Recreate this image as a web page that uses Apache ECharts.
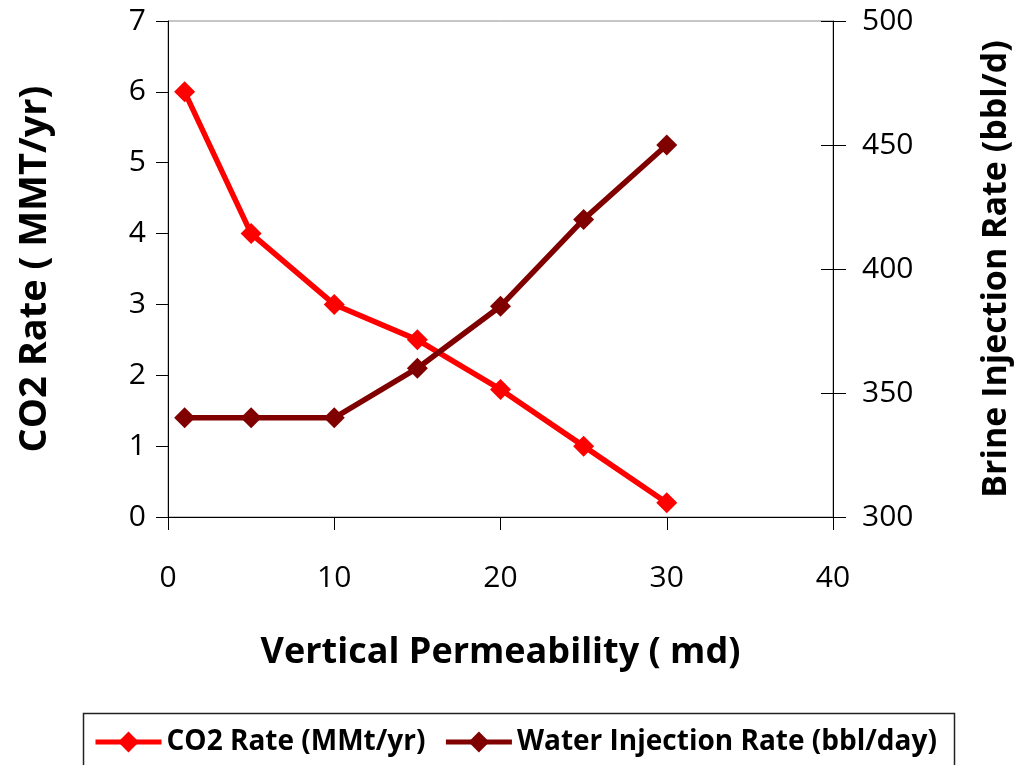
<!DOCTYPE html>
<html>
<head>
<meta charset="utf-8">
<title>CO2 Rate and Brine Injection vs Vertical Permeability</title>
<script src="https://cdn.jsdelivr.net/npm/echarts@6/dist/echarts.min.js"></script>
<style>
  html, body { margin: 0; padding: 0; background: #ffffff; }
  #chart { width: 1016px; height: 765px; }
</style>
</head>
<body>
<div id="chart"></div>
<script>
// Vertical permeability (md)
const permeability = [1, 5, 10, 15, 20, 25, 30];
// CO2 injection rate (MMt/yr)
const co2Rate = [6, 4, 3, 2.5, 1.8, 1, 0.2];
// Brine / water injection rate (bbl/day)
const waterRate = [340, 340, 340, 360, 385, 420, 450];

const seriesNames = ['CO2 Rate (MMt/yr)', 'Water Injection Rate (bbl/day)'];
const xTitle = 'Vertical Permeability ( md)';
const yLeftTitle = 'CO2 Rate ( MMT/yr)';
const yRightTitle = 'Brine Injection Rate (bbl/d)';

const pairs = (xs, ys) => xs.map((x, i) => [x, ys[i]]);

const FONT = '"Open Sans", "Noto Sans", sans-serif';

const chart = echarts.init(document.getElementById('chart'), null, { renderer: 'canvas' });

const tickLabel = { color: '#000', fontFamily: FONT, fontSize: 30 };
const titleText = (size) => ({ color: '#000', fontFamily: FONT, fontWeight: 'bold', fontSize: size });

chart.setOption({
  animation: false,
  backgroundColor: '#fff',
  grid: {
    left: 168, right: 183, top: 21, bottom: 248,
    outerBoundsMode: 'none',
    containLabel: false,
    show: true, borderColor: '#8c8c8c', borderWidth: 1, backgroundColor: 'transparent'
  },
  legend: {
    left: 88, top: 723,
    itemWidth: 66, itemHeight: 26, itemGap: 18,
    lineStyle: { width: 5 },
    textStyle: { color: '#000', fontFamily: FONT, fontWeight: 'bold', fontSize: 28 },
    data: seriesNames
  },
  graphic: [{
    type: 'rect',
    shape: { x: 83.5, y: 713.5, width: 871, height: 80 },
    style: { fill: 'none', stroke: '#222', lineWidth: 1.5 },
    silent: true
  }],
  xAxis: {
    type: 'value', min: 0, max: 40, interval: 10,
    name: xTitle, nameLocation: 'middle', nameGap: 118,
    nameTextStyle: titleText(36),
    axisLine: { show: true, lineStyle: { color: '#000', width: 1 } },
    axisTick: { show: true, inside: false, length: 13, lineStyle: { color: '#000' } },
    axisLabel: Object.assign({ margin: 46 }, tickLabel),
    splitLine: { show: false }
  },
  yAxis: [{
    type: 'value', min: 0, max: 7, interval: 1, position: 'left',
    name: yLeftTitle, nameLocation: 'middle', nameGap: 114, nameRotate: 90,
    nameTextStyle: titleText(38),
    axisLine: { show: true, lineStyle: { color: '#000', width: 1 } },
    axisTick: { show: true, inside: false, length: 12, lineStyle: { color: '#000' } },
    axisLabel: Object.assign({ margin: 22 }, tickLabel),
    splitLine: { show: false }
  }, {
    type: 'value', min: 300, max: 500, interval: 50, position: 'right',
    name: yRightTitle, nameLocation: 'middle', nameGap: 146, nameRotate: 90,
    nameTextStyle: titleText(34),
    axisLine: { show: true, lineStyle: { color: '#000', width: 1 } },
    axisTick: { show: true, inside: false, length: 13, lineStyle: { color: '#000' } },
    axisLabel: Object.assign({ margin: 29 }, tickLabel),
    splitLine: { show: false }
  }, {
    // inner half of the crossing ticks on the secondary axis
    type: 'value', min: 300, max: 500, interval: 50, position: 'right',
    axisLine: { show: false },
    axisTick: { show: true, inside: true, length: 12, lineStyle: { color: '#000' } },
    axisLabel: { show: false },
    splitLine: { show: false }
  }],
  series: [{
    name: seriesNames[0],
    type: 'line',
    yAxisIndex: 0,
    data: pairs(permeability, co2Rate),
    symbol: 'diamond', symbolSize: 21,
    lineStyle: { color: '#ff0000', width: 5.5 },
    itemStyle: { color: '#ff0000' },
    z: 2
  }, {
    name: seriesNames[1],
    type: 'line',
    yAxisIndex: 1,
    data: pairs(permeability, waterRate),
    symbol: 'diamond', symbolSize: 21,
    lineStyle: { color: '#800000', width: 5.5 },
    itemStyle: { color: '#800000' },
    z: 3
  }]
});
</script>
</body>
</html>
